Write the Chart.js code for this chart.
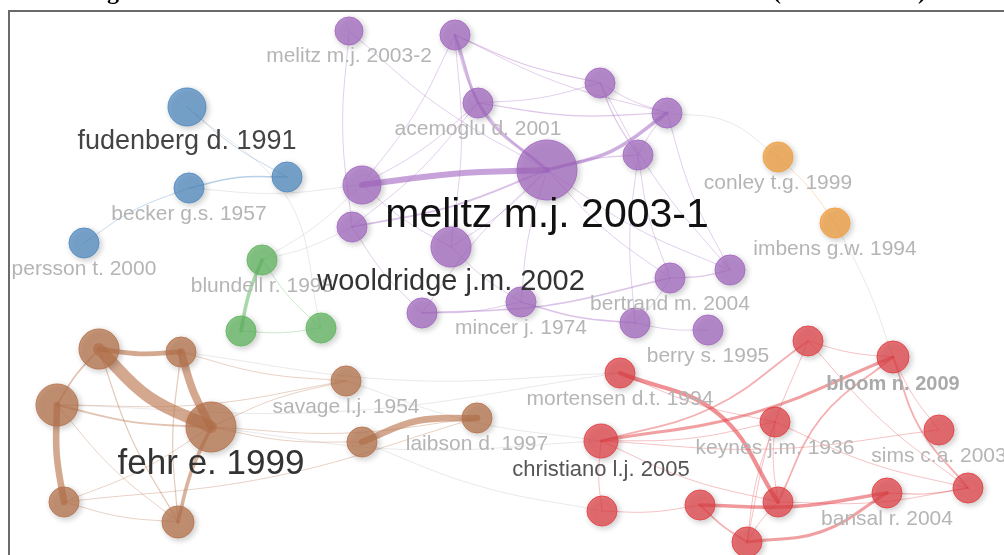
<!DOCTYPE html>
<html>
<head>
<meta charset="utf-8">
<script src="https://cdn.jsdelivr.net/npm/chart.js@4"></script>
<style>
  html, body { margin: 0; background: #fff; }
  canvas { display: block; }
</style>
</head>
<body>
<canvas id="map" width="1004" height="555"></canvas>
<script>
"use strict";

// co-citation map of cited references (clusters 1..6)
const labels = [
  "melitz m.j. 2003-2", "", "acemoglu d. 2001", "", "", "", "melitz m.j. 2003-1", "", "",
  "wooldridge j.m. 2002", "", "mincer j. 1974", "", "bertrand m. 2004", "", "berry s. 1995",
  "fudenberg d. 1991", "", "becker g.s. 1957", "persson t. 2000",
  "blundell r. 1998", "", "",
  "conley t.g. 1999", "imbens g.w. 1994",
  "", "", "", "fehr e. 1999", "", "", "savage l.j. 1954", "laibson d. 1997", "",
  "mortensen d.t. 1994", "christiano l.j. 2005", "", "", "bloom n. 2009", "keynes j.m. 1936",
  "sims c.a. 2003", "", "bansal r. 2004", "", "", ""
];
const mapX = [349, 455, 478, 600, 667, 638, 547, 362, 352, 451, 422, 521, 635, 670, 730, 708,
  187, 287, 189, 84, 262, 241, 321, 778, 835,
  99, 181, 57, 211, 64, 178, 346, 477, 362,
  620, 601, 602, 808, 893, 775, 939, 968, 887, 778, 700, 747];
const mapY = [31, 35, 103, 83, 113, 155, 170, 185, 227, 247, 313, 302, 323, 278, 270, 330,
  107, 177, 188, 243, 260, 331, 328, 157, 223,
  349, 352, 405, 427, 502, 522, 381, 418, 442,
  373, 441, 511, 341, 357, 422, 430, 488, 493, 502, 505, 542];
const citations = [87, 100, 100, 100, 100, 100, 400, 160, 100, 178, 100, 100, 100, 100, 100, 100,
  160, 100, 100, 100, 100, 100, 100, 100, 100,
  178, 100, 196, 278, 100, 114, 100, 100, 100,
  100, 128, 100, 100, 114, 100, 100, 100, 100, 100, 100, 100];
const clusters = [1, 1, 1, 1, 1, 1, 1, 1, 1, 1, 1, 1, 1, 1, 1, 1,
  2, 2, 2, 2, 3, 3, 3, 4, 4,
  5, 5, 5, 5, 5, 5, 5, 5, 5,
  6, 6, 6, 6, 6, 6, 6, 6, 6, 6, 6, 6];

// links: [source, target, strength]
const links = [
  [7, 6, 10], [6, 4, 6], [1, 6, 5], [8, 6, 3], [1, 3, 2], [1, 4, 1.5], [1, 2, 1.5], [2, 3, 1.5],
  [2, 4, 2], [3, 4, 1.5], [3, 5, 2], [4, 5, 1.5], [0, 8, 1.5], [0, 6, 1.5], [2, 6, 1.5], [5, 6, 2],
  [9, 6, 1.5], [10, 13, 2.5], [11, 12, 2.5], [12, 15, 1.5], [13, 14, 2], [6, 10, 1.5], [6, 11, 1.5],
  [6, 13, 1.5], [6, 14, 1.5], [7, 2, 1.5], [7, 1, 1.5], [8, 2, 1.5], [9, 1, 1.5], [4, 14, 1.5],
  [5, 13, 1.5], [5, 12, 1.5], [3, 14, 1.5], [8, 10, 1.5], [9, 11, 1.5], [10, 11, 1.5], [12, 13, 1.5],
  [7, 9, 1.5],
  [4, 23, 1.5], [23, 24, 1.5], [24, 38, 1.5], [18, 17, 2.5], [18, 19, 1.5], [16, 17, 1.5],
  [16, 22, 1.5], [18, 7, 1.5], [20, 7, 1.5], [20, 8, 1.5],
  [20, 21, 6], [21, 22, 1.5], [20, 22, 1.5],
  [25, 28, 20], [26, 28, 13], [25, 26, 8], [27, 29, 11], [28, 30, 6], [25, 27, 3], [25, 30, 2],
  [26, 30, 2], [27, 28, 3], [27, 30, 1.5], [29, 30, 1.5], [29, 28, 1.5], [33, 32, 11], [31, 28, 1.5],
  [27, 31, 1.5], [28, 32, 1.5], [26, 31, 1.5], [28, 33, 1.5], [28, 35, 1.5], [27, 34, 1.5],
  [26, 34, 1.5], [31, 35, 1.5], [33, 36, 1.5], [29, 32, 1.5],
  [34, 43, 7], [35, 38, 5], [35, 37, 3], [44, 42, 6], [45, 42, 5], [43, 38, 3], [38, 41, 3],
  [35, 40, 1.5], [35, 39, 1.5], [35, 43, 1.5], [36, 44, 1.5], [35, 36, 1.5], [44, 45, 3],
  [43, 45, 1.5], [37, 38, 1.5], [37, 41, 1.5], [38, 40, 1.5], [39, 43, 1.5], [42, 41, 2],
  [43, 41, 1.5], [39, 41, 1.5], [37, 45, 1.5], [39, 45, 1.5], [34, 39, 1.5]
];

// styling
const clusterRgb = {
  1: "165,105,195", 2: "80,140,195", 3: "95,185,95",
  4: "245,160,60", 5: "185,115,75", 6: "228,65,70"
};
const edgeBend = {
  "25-28": 0.08, "1-6": 0.12, "6-4": 0.08, "7-6": -0.02, "34-43": -0.15, "35-38": 0.05,
  "35-37": 0.08, "45-42": 0.1, "43-38": -0.1, "38-41": 0.08, "33-32": -0.08, "4-23": -0.12,
  "23-24": -0.04, "24-38": -0.03, "16-22": -0.15, "18-17": -0.05, "18-19": 0.05
};
const labelStyle = {
  6: { size: 41, color: "#111", dy: -4 },
  16: { size: 27, color: "#444", dy: 2 },
  9: { size: 29, color: "#333" },
  28: { size: 35, color: "#333", dy: -5 },
  35: { size: 22, color: "#555" },
  38: { size: 20, color: "#aaa", bold: true }
};
const FONT = '"Liberation Sans", Arial, sans-serif';

const radius = (i) => 1.5 * Math.sqrt(citations[i]);

const edgeSets = links.map(([a, b, s]) => {
  const x1 = mapX[a], y1 = mapY[a], x2 = mapX[b], y2 = mapY[b];
  const bend = edgeBend[a + "-" + b] ?? 0.04;
  const mid = { x: (x1 + x2) / 2 - bend * (y2 - y1), y: (y1 + y2) / 2 + bend * (x2 - x1) };
  const same = clusters[a] === clusters[b];
  const alpha = same ? Math.min(0.62, 0.3 + s * 0.04) : 0.3;
  const rgb = same ? clusterRgb[clusters[a]] : "175,175,175";
  return {
    type: "line",
    data: [{ x: x1, y: y1 }, mid, { x: x2, y: y2 }],
    borderColor: `rgba(${rgb},${alpha})`,
    borderWidth: s * 0.6,
    borderCapStyle: "round",
    tension: 0.4,
    pointRadius: 0,
    clip: false,
    order: 2,
  };
});

const nodeSets = [1, 2, 3, 4, 5, 6].map((c) => ({
  type: "bubble",
  data: labels.map((_, i) => i).filter((i) => clusters[i] === c)
    .map((i) => ({ x: mapX[i], y: mapY[i], r: radius(i) })),
  backgroundColor: `rgba(${clusterRgb[c]},0.72)`,
  borderColor: `rgba(${clusterRgb[c]},0.9)`,
  borderWidth: 1,
  clip: false,
  order: 1,
}));

const nodeShadow = {
  id: "nodeShadow",
  beforeDatasetDraw(chart, args) {
    if (args.meta.type !== "bubble") return;
    const ctx = chart.ctx;
    ctx.save();
    ctx.shadowColor = "rgba(0,0,0,0.28)";
    ctx.shadowBlur = 6;
    ctx.shadowOffsetX = 2;
    ctx.shadowOffsetY = 2;
  },
  afterDatasetDraw(chart, args) {
    if (args.meta.type !== "bubble") return;
    chart.ctx.restore();
  },
};

const nodeLabels = {
  id: "nodeLabels",
  afterDatasetsDraw(chart) {
    const ctx = chart.ctx;
    const xs = chart.scales.x, ys = chart.scales.y;
    ctx.save();
    ctx.textAlign = "center";
    ctx.textBaseline = "middle";
    const order = labels.map((_, i) => i).sort((a, b) => (labelStyle[a] ? 1 : 0) - (labelStyle[b] ? 1 : 0));
    order.forEach((i) => {
      if (!labels[i]) return;
      const st = labelStyle[i] || { size: 21, color: "#b5b5b5" };
      ctx.font = `${st.bold ? "bold " : ""}${st.size}px ${FONT}`;
      ctx.fillStyle = st.color;
      const px = xs.getPixelForValue(mapX[i]);
      const py = ys.getPixelForValue(mapY[i]) + radius(i) + st.size * 0.4 + 3 + (st.dy || 0);
      ctx.fillText(labels[i], px, py);
    });
    ctx.restore();
  },
  afterDraw(chart) {
    const ctx = chart.ctx;
    ctx.save();
    // frame of the figure
    ctx.strokeStyle = "#6a6a6a";
    ctx.lineWidth = 2;
    ctx.beginPath();
    ctx.moveTo(1004, 11);
    ctx.lineTo(9, 11);
    ctx.lineTo(9, 555);
    ctx.stroke();
    // bottom of the caption line that is cut off above
    ctx.fillStyle = "#000";
    ctx.font = 'bold 24px "Liberation Serif", serif';
    ctx.textAlign = "center";
    ctx.textBaseline = "alphabetic";
    ctx.fillText("g", 113, -1);
    ctx.fillText("(", 777, -1);
    ctx.fillText(")", 922, -1);
    ctx.restore();
  },
};

new Chart(document.getElementById("map"), {
  type: "bubble",
  data: { datasets: [...edgeSets, ...nodeSets] },
  options: {
    responsive: false,
    animation: false,
    events: [],
    layout: { padding: 0, autoPadding: false },
    scales: {
      x: { type: "linear", min: 0, max: 1004, display: false },
      y: { type: "linear", min: 0, max: 555, reverse: true, display: false },
    },
    plugins: {
      legend: { display: false },
      tooltip: { enabled: false },
    },
  },
  plugins: [nodeShadow, nodeLabels],
});
</script>
</body>
</html>
